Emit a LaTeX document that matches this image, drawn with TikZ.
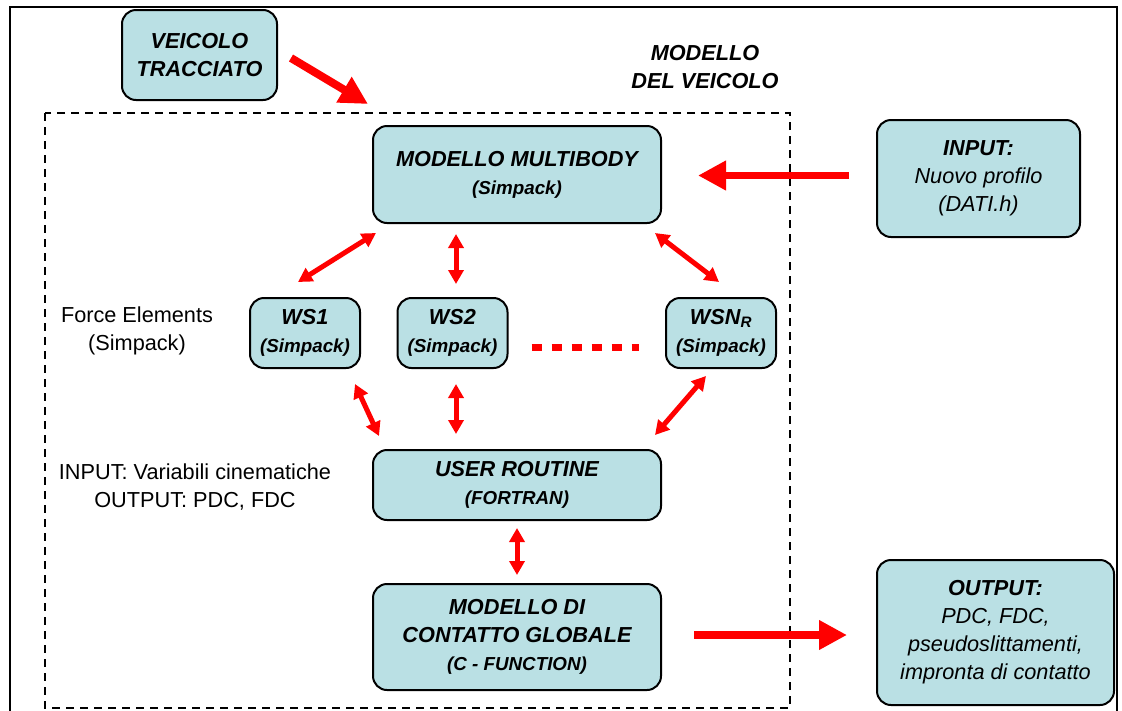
\documentclass[tikz,border=0pt]{standalone}
\usepackage{fontspec}
\setmainfont{Liberation Sans}
\usetikzlibrary{arrows.meta,calc}
\definecolor{azzurro}{RGB}{186,224,228}
\newcommand{\grande}{\fontsize{21.7}{28}\selectfont}
\newcommand{\piccolo}{\fontsize{18.8}{28}\selectfont}
\begin{document}
\begin{tikzpicture}[x=1pt,y=-1pt,
	blocco/.style={draw=black,line width=2pt,fill=azzurro,rounded corners=14pt,align=center,inner sep=0pt,font=\grande\bfseries\itshape},
	testo/.style={align=center,font=\grande},
	freccia/.style={draw=red,line width=8pt,-{Triangle[length=28pt,width=28pt]}},
	doppia/.style={draw=red,line width=5pt,{Triangle[length=14pt,width=15pt]}-{Triangle[length=14pt,width=15pt]}}]
	\useasboundingbox (0,0) rectangle (1122,710);
	% les cadres
	\draw[line width=2pt] (10,7) rectangle (1117,740);
	\draw[line width=2.5pt,dash pattern=on 8pt off 6pt] (45,113) rectangle (790,708);
	% les blocs
	\node[blocco,minimum width=155pt,minimum height=90pt] (vt) at (199.5,55) {VEICOLO\\TRACCIATO};
	\node[blocco,minimum width=288pt,minimum height=97pt] (mb) at (517,174.5) {MODELLO MULTIBODY\\{\piccolo (Simpack)}};
	\node[blocco,minimum width=203pt,minimum height=117pt] (input) at (978.5,178.5) {INPUT:\\{\mdseries Nuovo profilo}\\{\mdseries (DATI.h)}};
	\node[blocco,minimum width=110pt,minimum height=70pt] (ws1) at (305,333) {WS1\\{\piccolo (Simpack)}};
	\node[blocco,minimum width=110pt,minimum height=70pt] (ws2) at (452.5,333) {WS2\\{\piccolo (Simpack)}};
	\node[blocco,minimum width=110pt,minimum height=70pt] (wsn) at (721,333) {WSN\textsubscript{R}\\{\piccolo (Simpack)}};
	\node[blocco,minimum width=288pt,minimum height=70pt] (ur) at (517,485) {USER ROUTINE\\{\piccolo (FORTRAN)}};
	\node[blocco,minimum width=288pt,minimum height=106pt] (cg) at (517,637) {MODELLO DI\\CONTATTO GLOBALE\\{\piccolo (C - FUNCTION)}};
	\node[blocco,minimum width=237pt,minimum height=145pt] (output) at (995.5,632.5) {OUTPUT:\\{\mdseries PDC, FDC,}\\{\mdseries pseudoslittamenti,}\\{\mdseries impronta di contatto}};
	% les textes
	\node[testo,font=\grande\bfseries\itshape] (mv) at (705,67) {MODELLO\\DEL VEICOLO};
	\node[testo] (fe) at (137,331) {Force Elements\\(Simpack)};
	\node[testo] (io) at (195,487) {INPUT: Variabili cinematiche\\OUTPUT: PDC, FDC};
	% les flèches
	\coordinate (ingresso) at (368,104);
	\draw[freccia] ($(vt.east)+(13,3)$) -- (ingresso);
	\draw[freccia,line width=7pt] ($(input.west)+(-27,-3)$) -- ($(mb.east |- input.west)+(36,-3)$);
	\draw[freccia] ($(cg.east)+(32,-2)$) -- ($(output.west |- cg.east)+(-29,-2)$);
	\draw[doppia] ($(mb.south west)+(4,9)$) -- ($(ws1.north)+(-7,-15)$);
	\draw[doppia] ($(mb.south)+(-61,10)$) -- ($(ws2.north)+(3.5,-13)$);
	\draw[doppia] ($(mb.south east)+(-7,9)$) -- ($(wsn.north)+(-2,-15)$);
	\draw[doppia] ($(ws1.south)+(50,15)$) -- ($(ur.north west)+(7,-13)$);
	\draw[doppia] ($(ws2.south)+(3.5,15)$) -- ($(ur.north)+(-61,-15)$);
	\draw[doppia] ($(wsn.south)+(-15,7)$) -- ($(ur.north east)+(-7,-14)$);
	\draw[doppia] ($(ur.south)+(0,7)$) -- ($(cg.north)+(0,-8)$);
	% les pointillés
	\draw[red,line width=7pt,dash pattern=on 10pt off 10pt] ($(ws2.east)+(23,14)$) -- ($(wsn.west)+(-26,14)$);
\end{tikzpicture}
\end{document}
